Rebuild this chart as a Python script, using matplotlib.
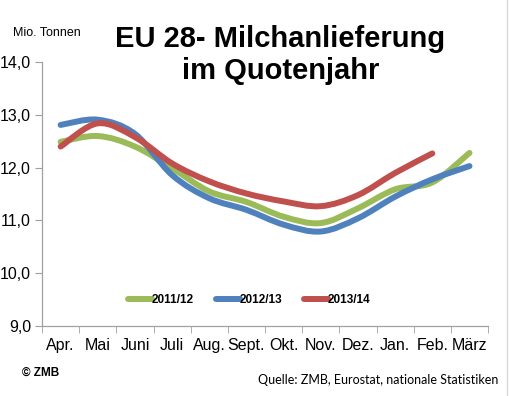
import matplotlib
matplotlib.use("Agg")
import matplotlib.pyplot as plt
from matplotlib.path import Path
from matplotlib.patches import PathPatch
from matplotlib.lines import Line2D
import numpy as np

plt.rcParams['font.family'] = ['Liberation Sans', 'DejaVu Sans']

months = ["Apr.", "Mai", "Juni", "Juli", "Aug.", "Sept.", "Okt.", "Nov.", "Dez.", "Jan.", "Feb.", "März"]
y_2011 = [12.49, 12.60, 12.40, 11.99, 11.55, 11.35, 11.07, 10.95, 11.23, 11.59, 11.72, 12.28]
y_2012 = [12.81, 12.91, 12.64, 11.86, 11.42, 11.20, 10.92, 10.79, 11.04, 11.45, 11.78, 12.03]
y_2013 = [12.40, 12.84, 12.58, 12.08, 11.74, 11.51, 11.36, 11.27, 11.48, 11.90, 12.27]
labels = ["2011/12", "2012/13", "2013/14"]
colors = ["#9BBB59", "#4F81BD", "#C0504D"]


def smooth_path(xs, ys):
    # Excel-like smoothed line: cubic bezier between points (Catmull-Rom control points)
    pts = np.column_stack([xs, ys]).astype(float)
    n = len(pts)
    verts = [pts[0]]
    codes = [Path.MOVETO]
    for i in range(n - 1):
        p0 = pts[i - 1] if i > 0 else pts[i]
        p1 = pts[i]
        p2 = pts[i + 1]
        p3 = pts[i + 2] if i + 2 < n else pts[i + 1]
        c1 = p1 + (p2 - p0) / 6.0
        c2 = p2 - (p3 - p1) / 6.0
        verts += [c1, c2, p2]
        codes += [Path.CURVE4] * 3
    return Path(verts, codes)


fig = plt.figure(figsize=(5.1, 3.96), dpi=100)
ax = fig.add_axes([0.0824, 0.177, 0.8746, 0.666])

handles = []
for ys, lab, col in zip([y_2011, y_2012, y_2013], labels, colors):
    xs = np.arange(len(ys))
    patch = PathPatch(smooth_path(xs, ys), facecolor="none", edgecolor=col,
                      lw=4.3, capstyle="round", joinstyle="round")
    ax.add_patch(patch)
    handles.append(Line2D([], [], color=col, lw=4.3, solid_capstyle="round"))

ax.set_xlim(-0.5, 11.5)
ax.set_ylim(9, 14)
ax.set_yticks(np.arange(9, 14.01, 1))
ax.set_yticklabels([f"{v:.1f}".replace(".", ",") for v in np.arange(9, 14.01, 1)], fontsize=11.5)
ax.set_xticks(np.arange(len(months)))
ax.set_xticklabels(months, fontsize=11.5)
ax.set_xticks(np.arange(-0.5, 12, 1), minor=True)
ax.tick_params(axis="x", which="major", length=0, pad=9)
ax.tick_params(axis="x", which="minor", length=5, color="#a0a0a0")
ax.tick_params(axis="y", length=5, color="#a0a0a0", pad=3)
for s in ["top", "right"]:
    ax.spines[s].set_visible(False)
for s in ["left", "bottom"]:
    ax.spines[s].set_color("#a0a0a0")
    ax.spines[s].set_linewidth(0.9)

leg = ax.legend(handles, labels, loc="center", bbox_to_anchor=(0.465, 0.098), ncol=3,
                frameon=False, handlelength=2.0, handletextpad=0.0, columnspacing=1.85,
                prop={"size": 8.5, "weight": "bold"})

fig.text(0.55, 0.861, "EU 28- Milchanlieferung\nim Quotenjahr", ha="center", va="center",
         fontsize=21, fontweight="bold", linespacing=1.2)
fig.text(0.025, 0.917, "Mio. Tonnen", fontsize=9, va="center")
fig.text(0.043, 0.058, "© ZMB", fontsize=8.5, fontweight="bold", va="center")
fig.text(0.977, 0.041, "Quelle: ZMB, Eurostat, nationale Statistiken", fontsize=9,
         ha="right", va="center", family=["Lato", "DejaVu Sans"])
fig.add_artist(Line2D([0.995, 0.995], [0.0, 1.0], color="#d8d8d8", lw=1.0, transform=fig.transFigure))

fig.savefig("out.png", dpi=100)
